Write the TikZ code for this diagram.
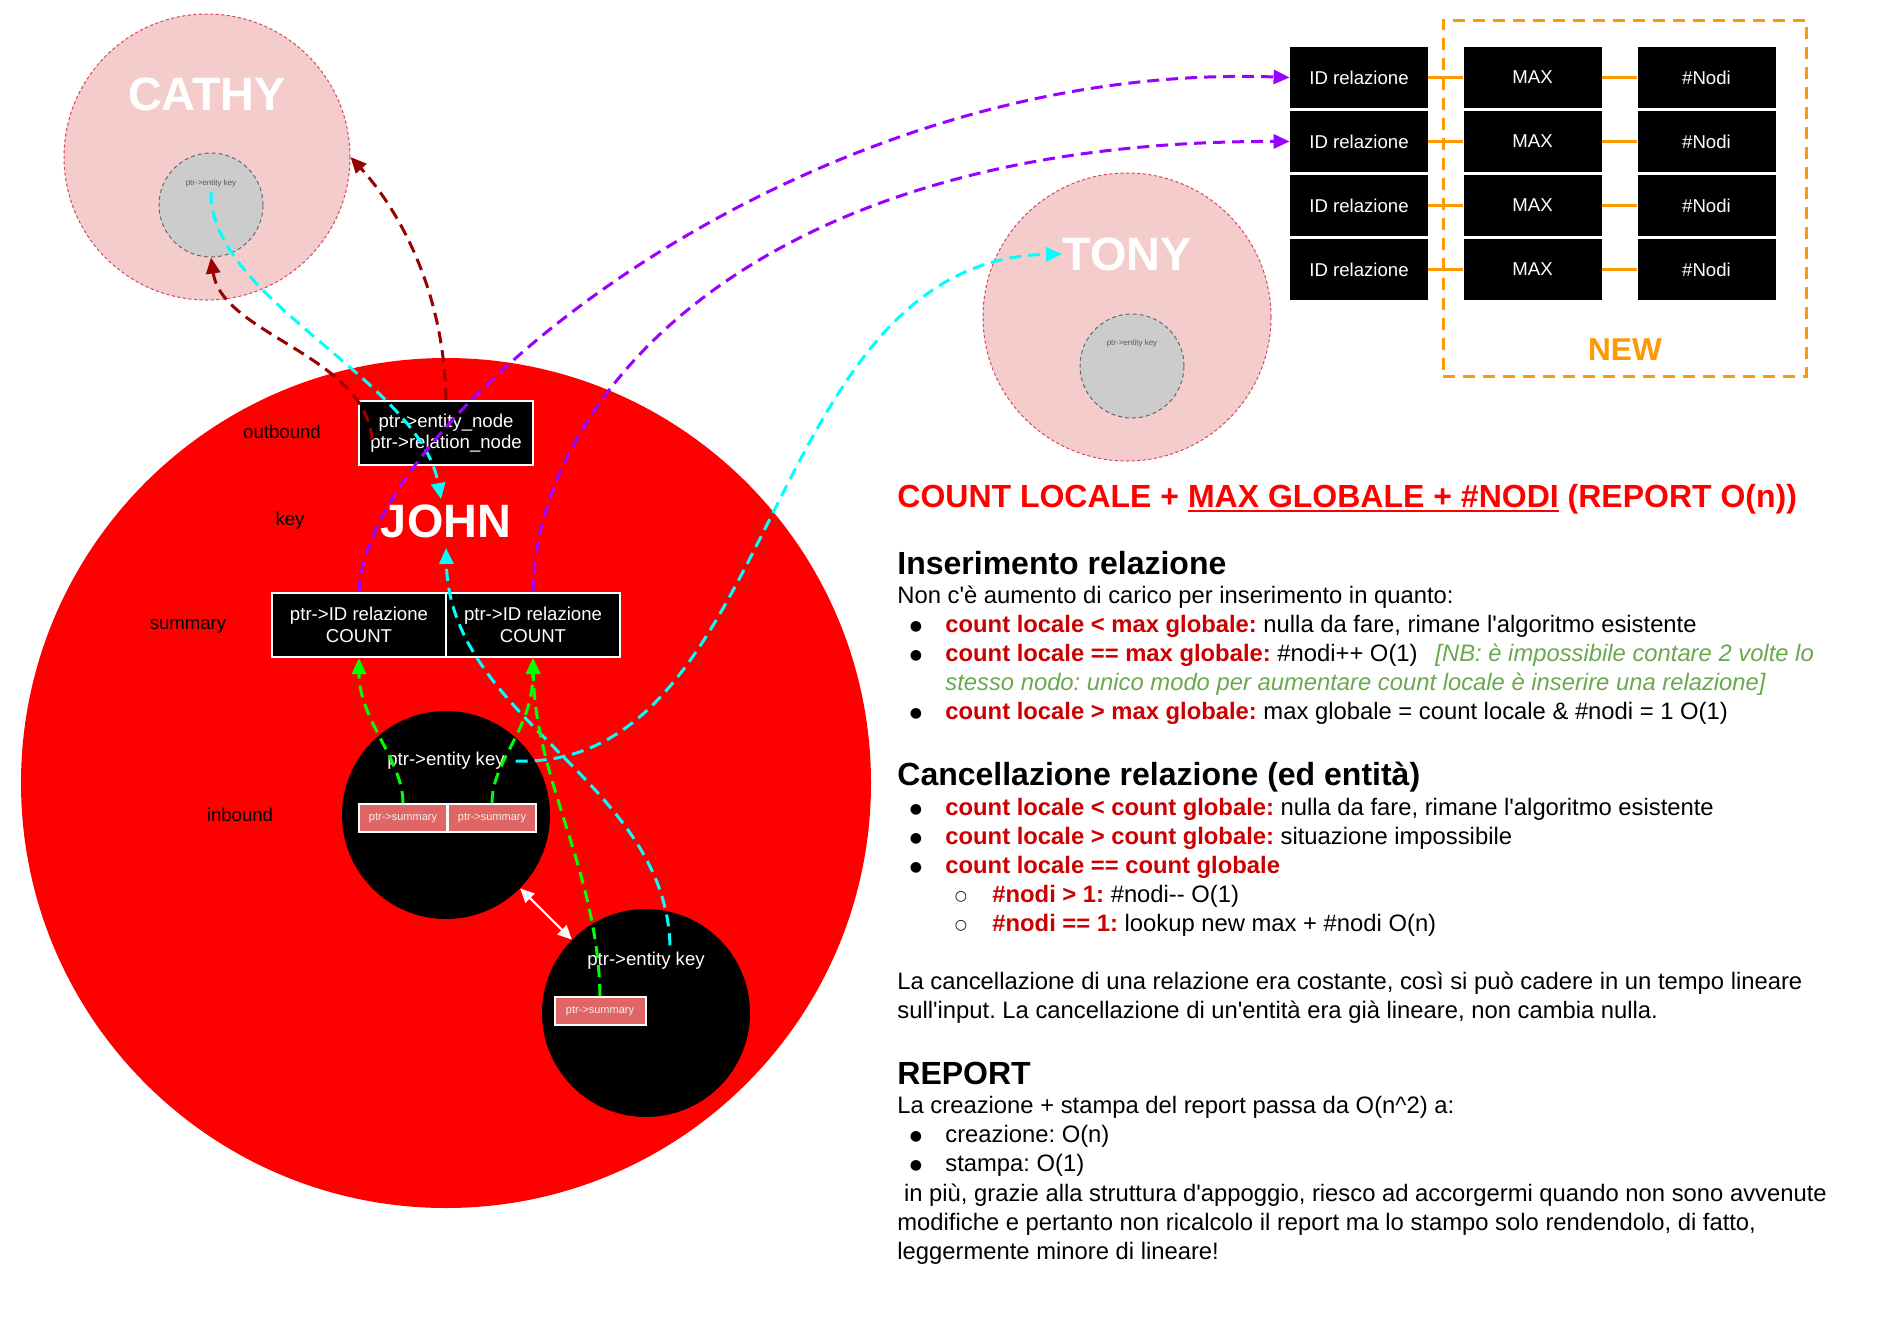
\documentclass[tikz,border=0pt]{standalone}
\usepackage{fontspec}
\setmainfont{Liberation Sans}
\newfontfamily\arialfont{Liberation Sans}
\newfontfamily\dotfont{DejaVu Sans}
\usetikzlibrary{arrows.meta}

\definecolor{johnred}{HTML}{FF0000}
\definecolor{ghostfill}{HTML}{F4CCCC}
\definecolor{ghostedge}{HTML}{D5475B}
\definecolor{keyfill}{HTML}{CCCCCC}
\definecolor{keyedge}{HTML}{666666}
\definecolor{sumfill}{HTML}{E06666}
\definecolor{outlink}{HTML}{990000}
\definecolor{keylink}{HTML}{00FFFF}
\definecolor{rellink}{HTML}{9900FF}
\definecolor{sumlink}{HTML}{00FF00}
\definecolor{neworange}{HTML}{FF9900}
\definecolor{titlered}{HTML}{FF0000}
\definecolor{labred}{HTML}{CC0000}
\definecolor{notegreen}{HTML}{6AA84F}

\newsavebox\ulbox
\newcommand\redul[1]{\sbox\ulbox{#1}\rlap{\rule[-2.6pt]{\wd\ulbox}{1pt}}\usebox\ulbox}
\newcommand\lab[1]{{\bfseries\color{labred}#1}}
\newcommand\fs[2]{\fontsize{#1}{#2}\selectfont}

\begin{document}
\arialfont\frenchspacing
\begin{tikzpicture}[x=0.5pt,y=-0.5pt,
  ghostball/.style={circle, fill=ghostfill, draw=ghostedge, line width=0.5pt,
    dash pattern=on 1.6pt off 1.2pt, inner sep=0pt, minimum size=#1},
  keyball/.style={circle, fill=keyfill, draw=keyedge, line width=0.5pt,
    dash pattern=on 2pt off 1.5pt, inner sep=0pt, minimum size=52pt},
  ownername/.style={text=white, font=\bfseries\fs{23.4pt}{26pt}, inner sep=0pt},
  keytiny/.style={text=black!65, font=\fs{4pt}{5pt}, inner sep=0.5pt},
  slotbox/.style={fill=black, draw=white, line width=1pt, text=white,
    minimum width=87pt, minimum height=32pt, inner sep=0pt, align=center,
    font=\fs{9.3pt}{10.8pt}},
  sumbox/.style={fill=sumfill, draw=white, line width=1pt, text=white!94!black,
    minimum width=#1, minimum height=14pt, inner sep=0pt, font=\fs{5.5pt}{6pt}},
  holeball/.style={circle, fill=black, minimum size=104pt, inner sep=0pt},
  holekey/.style={text=white, font=\fs{9.3pt}{11pt}},
  fieldlabel/.style={text=black, font=\fs{9.3pt}{11pt}},
  tablecell/.style={fill=black, text=white, minimum width=69pt, minimum height=30.5pt,
    inner sep=0pt, font=\fs{9.3pt}{11pt}},
  cellbar/.style={draw=neworange, line width=1.5pt},
  arrowlink/.style={line width=1.5pt, dash pattern=on 6pt off 3.5pt,
    -{Triangle[length=8pt,width=7pt]}},
  bodyline/.style={anchor=base west, inner sep=0pt, font=\fs{11.9pt}{14.5pt}},
  headline/.style={anchor=base west, inner sep=0pt, font=\bfseries\fs{16pt}{19pt}},
  bulletdot/.style={anchor=base, inner sep=0pt, font=\dotfont\fs{7pt}{7pt}}
]
\useasboundingbox (0,0) rectangle (1890,1324);
\fill[white] (0,0) rectangle (1890,1324);

% ---------- the entity JOHN ----------
\node[circle, fill=johnred, minimum size=425pt, inner sep=0pt] (john) at (446,783) {};
\node[ownername] (johnname) at (446,521) {JOHN};
\node[slotbox] (outbox) at (446,433) {ptr->entity\_node\\ptr->relation\_node};
\node[slotbox] (sum1) at (359,625) {ptr->ID relazione\\COUNT};
\node[slotbox] (sum2) at (533,625) {ptr->ID relazione\\COUNT};
\node[fieldlabel] (lout) at (282,432) {outbound};
\node[fieldlabel] (lkey) at (290,521) {key};
\node[fieldlabel] (lsum) at (188,626) {summary};
\node[fieldlabel] (lin) at (240,815) {inbound};

% inbound entries
\node[holeball] (in1) at (446,815) {};
\node[holeball] (in2) at (646,1013) {};
\node[holekey] (in1key) at (446,761) {ptr->entity key};
\node[holekey] (in2key) at (646,961) {ptr->entity key};
\node[sumbox=44pt] (ps1) at (403,818) {ptr->summary};
\node[sumbox=44pt] (ps2) at (492,818) {ptr->summary};
\node[sumbox=45.5pt] (ps3) at (600,1011) {ptr->summary};

% ---------- the entities CATHY and TONY ----------
\node[ghostball=143pt] (cathy) at (207,157) {};
\node[ownername] (cathyname) at (207,94) {CATHY};
\node[keyball] (cathykey) at (211,205) {};
\node[keytiny] (cathykeytext) at (211,183) {ptr->entity key};

\node[ghostball=144pt] (tony) at (1127,317) {};
\node[ownername] (tonyname) at (1127,254) {TONY};
\node[keyball] (tonykey) at (1132,366) {};
\node[keytiny] (tonykeytext) at (1132,343) {ptr->entity key};

% ---------- relation table ----------
\foreach \r/\y in {1/77.5, 2/141.5, 3/205.5, 4/269.5} {
  \node[tablecell] (id\r) at (1359,\y) {ID relazione};
  \node[tablecell] (max\r) at (1532.5,\y) {MAX};
  \node[tablecell] (nodi\r) at (1706.5,\y) {\#Nodi};
  \draw[cellbar] (id\r.east) -- (max\r.west);
  \draw[cellbar] (max\r.east) -- (nodi\r.west);
}
\node[draw=neworange, line width=1.5pt, dash pattern=on 6pt off 4pt,
  minimum width=181.5pt, minimum height=178pt, inner sep=0pt] (newframe) at (1624.5,198) {};
\node[text=neworange, font=\bfseries\fs{15.8pt}{18pt}, inner sep=0pt] (newlabel) at (1625,350) {NEW};

% ---------- connectors ----------
\draw[arrowlink, outlink] ([xshift=-37pt,yshift=-3.5pt]outbox.center)
  .. controls (366,355) and (222,335) .. (cathykey.south);
\draw[arrowlink, outlink] (outbox.north)
  .. controls (444,280) and (390,200) .. (cathy.east);
\draw[arrowlink, keylink] ([yshift=-2pt]cathykeytext.south)
  .. controls (210,300) and (420,380) .. ([xshift=-2.5pt,yshift=2.5pt]johnname.north);
\draw[arrowlink, keylink] ([xshift=12pt]in2key.north)
  .. controls (665,780) and (450,720) .. ([yshift=-5pt]johnname.south);
\draw[arrowlink, keylink] ([xshift=2pt]in1key.east)
  .. controls (780,770) and (760,260) .. (tonyname.west);
\draw[arrowlink, rellink] (sum1.north)
  .. controls (365,420) and (800,60) .. (id1.west);
\draw[arrowlink, rellink] (sum2.north)
  .. controls (535,400) and (750,140) .. (id2.west);
\draw[arrowlink, sumlink] (ps1.north)
  .. controls (403,760) and (359,720) .. (sum1.south);
\draw[arrowlink, sumlink] (ps2.north)
  .. controls (492,760) and (533,730) .. (sum2.south);
\draw[arrowlink, sumlink] (ps3.north)
  .. controls (598,870) and (535,780) .. (sum2.south);
\draw[white, line width=1pt, {Triangle[length=7pt,width=6.5pt]}-{Triangle[length=7pt,width=6.5pt]}]
  (in1) -- (in2);

% ---------- notes ----------
\node[headline, text=titlered] (title) at (897,507)
  {COUNT LOCALE + \redul{MAX GLOBALE + \#NODI} (REPORT O(n))};

\node[headline] (insh) at (897,574.5) {Inserimento relazione};
\node[bodyline] (ins0) at (897,603.5) {Non c'è aumento di carico per inserimento in quanto:};
\node[bulletdot] (insd1) at (916,630.4) {●};
\node[bodyline] (ins1) at (945,632.4) {\lab{count locale < max globale:} nulla da fare, rimane l'algoritmo esistente};
\node[bulletdot] (insd2) at (916,659.3) {●};
\node[bodyline] (ins2) at (945,661.3) {\lab{count locale == max globale:} \#nodi++ O(1)\hspace{0.75em}{\color{notegreen}\itshape [NB: è impossibile contare 2 volte lo}};
\node[bodyline, text=notegreen, font=\itshape\fs{11.9pt}{14.5pt}] (ins2b) at (945,690.3) {stesso nodo: unico modo per aumentare count locale è inserire una relazione]};
\node[bulletdot] (insd3) at (916,717.2) {●};
\node[bodyline] (ins3) at (945,719.2) {\lab{count locale > max globale:} max globale = count locale \& \#nodi = 1 O(1)};

\node[headline] (canh) at (897,785.4) {Cancellazione relazione (ed entità)};
\node[bulletdot] (cand1) at (916,813.6) {●};
\node[bodyline] (can1) at (945,815.6) {\lab{count locale < count globale:} nulla da fare, rimane l'algoritmo esistente};
\node[bulletdot] (cand2) at (916,842.5) {●};
\node[bodyline] (can2) at (945,844.5) {\lab{count locale > count globale:} situazione impossibile};
\node[bulletdot] (cand3) at (916,871.5) {●};
\node[bodyline] (can3) at (945,873.5) {\lab{count locale == count globale}};
\node[bulletdot] (cans1) at (961,900.4) {○};
\node[bodyline] (can4) at (992,902.4) {\lab{\#nodi > 1:} \#nodi-{}- O(1)};
\node[bulletdot] (cans2) at (961,929.3) {○};
\node[bodyline] (can5) at (992,931.3) {\lab{\#nodi == 1:} lookup new max + \#nodi O(n)};
\node[bodyline] (can6) at (897,989.2) {La cancellazione di una relazione era costante, così si può cadere in un tempo lineare};
\node[bodyline] (can7) at (897,1018.1) {sull'input. La cancellazione di un'entità era già lineare, non cambia nulla.};

\node[headline] (reph) at (897,1084.3) {REPORT};
\node[bodyline] (rep0) at (897,1113.4) {La creazione + stampa del report passa da O(n\textasciicircum 2) a:};
\node[bulletdot] (repd1) at (916,1140.3) {●};
\node[bodyline] (rep1) at (945,1142.3) {creazione: O(n)};
\node[bulletdot] (repd2) at (916,1169.2) {●};
\node[bodyline] (rep2) at (945,1171.2) {stampa: O(1)};
\node[bodyline] (rep3) at (897,1201.3) {\ in più, grazie alla struttura d'appoggio, riesco ad accorgermi quando non sono avvenute};
\node[bodyline] (rep4) at (897,1230.3) {modifiche e pertanto non ricalcolo il report ma lo stampo solo rendendolo, di fatto,};
\node[bodyline] (rep5) at (897,1259.2) {leggermente minore di lineare!};
\end{tikzpicture}
\end{document}
